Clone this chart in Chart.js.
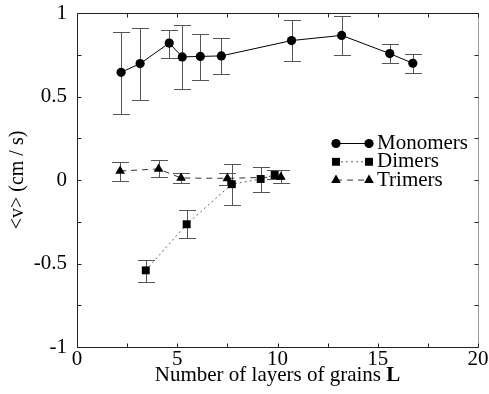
<!DOCTYPE html>
<html>
<head>
<meta charset="utf-8">
<script src="https://cdn.jsdelivr.net/npm/chart.js@4/dist/chart.umd.min.js"></script>
<style>
  html, body { margin: 0; padding: 0; background: #fff; overflow: hidden; }
  #wrap { width: 500px; height: 394px; }
</style>
</head>
<body>
<div id="wrap"><canvas id="chart" width="500" height="394"></canvas></div>
<script>
const serif = "'Liberation Serif', 'Times New Roman', serif";

// Monomers
const monoL = [2.2, 3.15, 4.6, 5.25, 6.15, 7.2, 10.7, 13.2, 15.6, 16.75];
const monoV = [0.645, 0.697, 0.82, 0.737, 0.74, 0.743, 0.835, 0.866, 0.757, 0.699];
const monoHi = [0.886, 0.912, 0.90, 0.926, 0.874, 0.849, 0.956, 0.982, 0.814, 0.754];
const monoLo = [0.397, 0.477, 0.733, 0.547, 0.60, 0.635, 0.713, 0.747, 0.699, 0.639];

// Dimers
const diL = [3.43, 5.47, 7.72, 9.16, 9.86];
const diV = [-0.541, -0.265, -0.025, 0.006, 0.03];
const diHi = [-0.477, -0.181, 0.098, 0.078, 0.058];
const diLo = [-0.611, -0.349, -0.152, -0.072, 0.005];

// Trimers
const triL = [2.15, 4.07, 5.19, 7.5, 10.17];
const triV = [0.054, 0.066, 0.012, 0.01, 0.018];
const triHi = [0.108, 0.122, 0.044, 0.04, 0.058];
const triLo = [-0.004, 0.016, -0.02, -0.03, -0.016];

const xTickLabels = ['0', '5', '10', '15', '20'];
const yTickLabels = ['-1', '-0.5', '0', '0.5', '1'];

function points(xs, ys) {
  return xs.map((x, i) => ({ x: x, y: ys[i] }));
}

const series = [
  { label: 'Monomers', L: monoL, V: monoV, hi: monoHi, lo: monoLo, style: 'circle', radius: 4.6, dash: [], lineColor: '#000' },
  { label: 'Dimers', L: diL, V: diV, hi: diHi, lo: diLo, style: 'rect', radius: 5.6, dash: [2, 3], lineColor: '#666' },
  { label: 'Trimers', L: triL, V: triV, hi: triHi, lo: triLo, style: 'triangle', radius: 5.6, dash: [6, 5], lineColor: '#333' }
];

// error bars, drawn under the markers
const errorBars = {
  id: 'errorBars',
  beforeDatasetsDraw(chart) {
    const { ctx, scales: { x, y } } = chart;
    ctx.save();
    ctx.strokeStyle = '#555';
    ctx.lineWidth = 1;
    series.forEach((s) => {
      s.L.forEach((l, i) => {
        const px = Math.round(x.getPixelForValue(l)) + 0.5;
        const top = Math.round(y.getPixelForValue(s.hi[i])) + 0.5;
        const bot = Math.round(y.getPixelForValue(s.lo[i])) + 0.5;
        ctx.beginPath();
        ctx.moveTo(px, top); ctx.lineTo(px, bot);
        ctx.moveTo(px - 8.5, top); ctx.lineTo(px + 8.5, top);
        ctx.moveTo(px - 8.5, bot); ctx.lineTo(px + 8.5, bot);
        ctx.stroke();
      });
    });
    ctx.restore();
  }
};

// box around the plot with inward ticks, x-axis title, legend
const frame = {
  id: 'frame',
  afterDraw(chart) {
    const { ctx, chartArea: a, scales: { x, y } } = chart;
    ctx.save();
    ctx.lineWidth = 1;
    ctx.strokeStyle = '#222';
    const L = Math.round(a.left) + 0.5, R = Math.round(a.right) + 0.5;
    const T = Math.round(a.top) + 0.5, B = Math.round(a.bottom) + 0.5;
    ctx.beginPath();
    ctx.moveTo(R, T); ctx.lineTo(L, T); ctx.lineTo(L, B); ctx.lineTo(R, B);
    ctx.stroke();
    ctx.strokeStyle = '#999';
    ctx.beginPath();
    ctx.moveTo(R, T); ctx.lineTo(R, B);
    ctx.stroke();

    ctx.strokeStyle = '#222';
    ctx.beginPath();
    for (let v = x.min; v <= x.max; v += 2.5) {
      const px = Math.round(x.getPixelForValue(v)) + 0.5;
      ctx.moveTo(px, B); ctx.lineTo(px, B - 4);
      ctx.moveTo(px, T); ctx.lineTo(px, T + 4);
    }
    for (let v = y.min; v <= y.max + 1e-9; v += 0.25) {
      const py = Math.round(y.getPixelForValue(v)) + 0.5;
      ctx.moveTo(L, py); ctx.lineTo(L + 4, py);
      ctx.moveTo(R, py); ctx.lineTo(R - 4, py);
    }
    ctx.stroke();

    // x-axis title with a bold L
    const part1 = 'Number of layers of grains ';
    const part2 = 'L';
    ctx.fillStyle = '#000';
    ctx.textBaseline = 'alphabetic';
    ctx.textAlign = 'left';
    ctx.font = '21px ' + serif;
    const w1 = ctx.measureText(part1).width;
    ctx.font = 'bold 21px ' + serif;
    const w2 = ctx.measureText(part2).width;
    const cx = (a.left + a.right) / 2;
    const sx = cx - (w1 + w2) / 2;
    ctx.font = '21px ' + serif;
    ctx.fillText(part1, sx, 381);
    ctx.font = 'bold 21px ' + serif;
    ctx.fillText(part2, sx + w1, 381);

    // legend
    ctx.font = '21px ' + serif;
    series.forEach((s, i) => {
      const cy = a.top + 130.5 + i * 18.3;
      const x1 = a.left + 259, x2 = a.left + 292;
      ctx.save();
      ctx.strokeStyle = s.lineColor;
      ctx.setLineDash(s.dash);
      ctx.beginPath();
      ctx.moveTo(x1, cy); ctx.lineTo(x2, cy);
      ctx.stroke();
      ctx.restore();
      [x1, x2].forEach((mx) => {
        ctx.beginPath();
        if (s.style === 'circle') {
          ctx.arc(mx, cy, s.radius, 0, Math.PI * 2);
        } else if (s.style === 'rect') {
          const h = s.radius * Math.SQRT1_2;
          ctx.rect(mx - h, cy - h, 2 * h, 2 * h);
        } else {
          const r = s.radius;
          ctx.moveTo(mx, cy - r);
          ctx.lineTo(mx + r * 0.866, cy + r * 0.5);
          ctx.lineTo(mx - r * 0.866, cy + r * 0.5);
          ctx.closePath();
        }
        ctx.fill();
      });
      ctx.fillText(s.label, a.left + 300, cy + 5.5);
    });
    ctx.restore();
  }
};

new Chart(document.getElementById('chart'), {
  type: 'scatter',
  data: {
    datasets: series.map((s) => ({
      label: s.label,
      data: points(s.L, s.V),
      showLine: true,
      borderColor: s.lineColor,
      borderWidth: 1,
      borderDash: s.dash,
      pointStyle: s.style,
      pointRadius: s.radius,
      pointBackgroundColor: '#000',
      pointBorderColor: '#000',
      pointBorderWidth: 0,
      tension: 0
    }))
  },
  options: {
    responsive: false,
    animation: false,
    layout: { padding: { top: 13, right: 22, left: 0, bottom: 0 } },
    plugins: {
      legend: { display: false },
      tooltip: { enabled: false }
    },
    scales: {
      x: {
        type: 'linear',
        min: 0,
        max: 20,
        grid: { display: false, drawTicks: false },
        border: { display: false },
        afterFit: (scale) => {
          scale.height = 47;
          scale.paddingLeft = 0;
          scale.paddingRight = 0;
        },
        ticks: {
          stepSize: 5,
          padding: 0,
          maxRotation: 0,
          color: '#000',
          font: { family: serif, size: 21 },
          callback: (v, i) => xTickLabels[i]
        }
      },
      y: {
        type: 'linear',
        min: -1,
        max: 1,
        grid: { display: false, drawTicks: false },
        border: { display: false },
        afterFit: (scale) => {
          scale.width = 77;
          scale.paddingTop = 0;
          scale.paddingBottom = 0;
        },
        title: {
          display: true,
          text: '<v> (cm / s)',
          color: '#000',
          padding: { top: 6, bottom: 0 },
          font: { family: serif, size: 20 }
        },
        ticks: {
          stepSize: 0.5,
          padding: 10,
          color: '#000',
          font: { family: serif, size: 21 },
          callback: (v, i) => yTickLabels[i]
        }
      }
    }
  },
  plugins: [errorBars, frame]
});
</script>
</body>
</html>
